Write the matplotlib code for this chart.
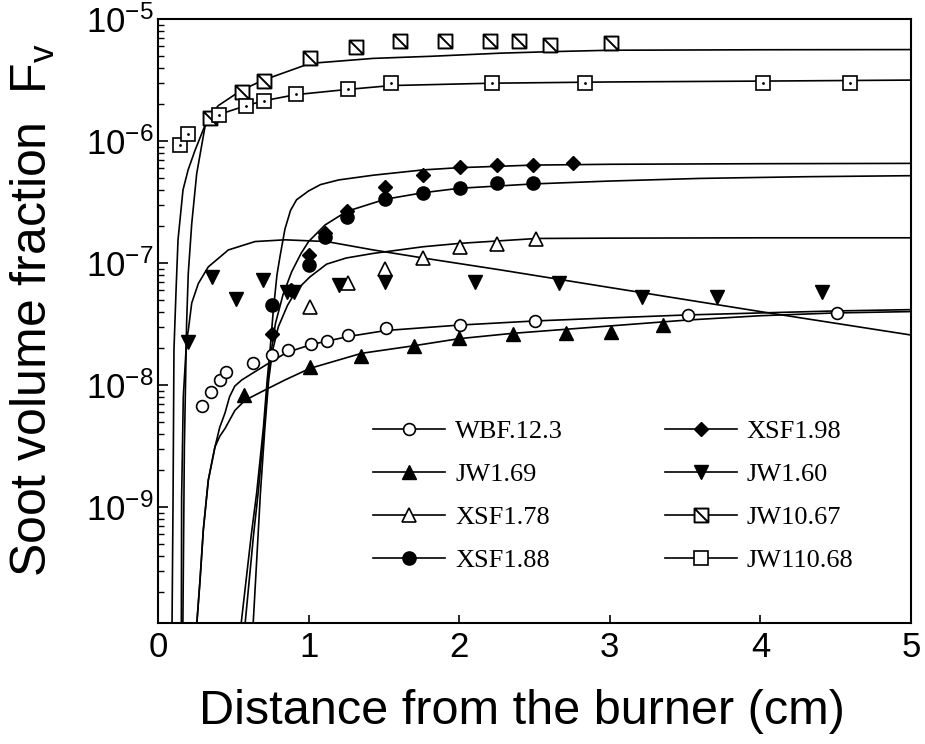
import matplotlib
matplotlib.use('Agg')
import matplotlib.pyplot as plt
from matplotlib.path import Path
from matplotlib.lines import Line2D
from matplotlib.ticker import LogLocator, NullFormatter, FixedLocator, LogFormatterSciNotation

plt.rcParams['font.family'] = ['Liberation Sans', 'DejaVu Sans']
plt.rcParams['mathtext.default'] = 'regular'
plt.rcParams['axes.unicode_minus'] = False

# ---------------- measured data (markers) ----------------
wbf_x = [0.29, 0.35, 0.412, 0.452, 0.633, 0.759, 0.861, 1.014, 1.124, 1.264, 1.514, 2.005, 2.503, 3.52, 4.506]
wbf_y = [6.7e-9, 8.8e-9, 1.1e-8, 1.27e-8, 1.52e-8, 1.76e-8, 1.94e-8, 2.15e-8, 2.31e-8, 2.57e-8, 2.92e-8, 3.1e-8, 3.37e-8, 3.75e-8, 3.87e-8]

jw169_x = [0.571, 1.009, 1.346, 1.70, 2.0, 2.355, 2.709, 3.006, 3.355]
jw169_y = [8.3e-9, 1.41e-8, 1.73e-8, 2.09e-8, 2.41e-8, 2.62e-8, 2.65e-8, 2.74e-8, 3.1e-8]

xsf178_x = [1.009, 1.262, 1.507, 1.757, 2.005, 2.25, 2.51]
xsf178_y = [4.4e-8, 6.9e-8, 8.9e-8, 1.09e-7, 1.36e-7, 1.42e-7, 1.56e-7]

xsf188_x = [0.755, 1.003, 1.109, 1.255, 1.507, 1.76, 2.005, 2.25, 2.49]
xsf188_y = [4.5e-8, 9.6e-8, 1.62e-7, 2.37e-7, 3.33e-7, 3.77e-7, 4.14e-7, 4.5e-7, 4.5e-7]

xsf198_x = [0.755, 0.88, 1.003, 1.109, 1.255, 1.507, 1.76, 2.005, 2.25, 2.49, 2.757]
xsf198_y = [2.6e-8, 6.0e-8, 1.16e-7, 1.77e-7, 2.68e-7, 4.2e-7, 5.26e-7, 6.17e-7, 6.35e-7, 6.4e-7, 6.6e-7]

jw160_x = [0.201, 0.356, 0.518, 0.70, 0.855, 0.90, 1.204, 1.507, 2.105, 2.665, 3.212, 3.71, 4.407]
jw160_y = [2.26e-8, 7.7e-8, 5.1e-8, 7.2e-8, 5.8e-8, 5.8e-8, 6.6e-8, 7.0e-8, 7.0e-8, 6.8e-8, 5.3e-8, 5.3e-8, 5.8e-8]

jw1067_x = [0.345, 0.556, 0.704, 1.009, 1.315, 1.607, 1.906, 2.204, 2.40, 2.60, 3.008]
jw1067_y = [1.55e-6, 2.54e-6, 3.12e-6, 4.76e-6, 5.86e-6, 6.6e-6, 6.6e-6, 6.6e-6, 6.6e-6, 6.1e-6, 6.4e-6]

jw11068_x = [0.146, 0.197, 0.405, 0.584, 0.704, 0.914, 1.262, 1.55, 2.22, 2.836, 4.02, 4.595]
jw11068_y = [9.2e-7, 1.14e-6, 1.63e-6, 1.94e-6, 2.14e-6, 2.43e-6, 2.65e-6, 2.97e-6, 2.97e-6, 2.97e-6, 2.97e-6, 2.97e-6]

# ---------------- curves ----------------
wbf_cx = [0.255, 0.279, 0.301, 0.334, 0.378, 0.41, 0.445, 0.475, 0.51, 0.556, 0.65, 0.75, 0.855, 1.02, 1.264, 1.514, 2.0, 2.5, 3.0, 3.5, 4.0, 4.5, 5.0]
wbf_cy = [1.0e-10, 2.5e-10, 6.5e-10, 1.66e-9, 3.1e-9, 4.5e-9, 5.9e-9, 8.0e-9, 9.8e-9, 1.1e-8, 1.3e-8, 1.55e-8, 1.85e-8, 2.15e-8, 2.5e-8, 2.8e-8, 3.1e-8, 3.35e-8, 3.55e-8, 3.75e-8, 3.9e-8, 4.05e-8, 4.15e-8]

jw169_cx = [0.255, 0.279, 0.301, 0.334, 0.378, 0.41, 0.445, 0.511, 0.578, 0.71, 0.843, 1.009, 1.352, 1.7, 2.0, 2.35, 3.0, 3.5, 4.0, 4.5, 5.0]
jw169_cy = [1.0e-10, 2.5e-10, 6.5e-10, 1.66e-9, 3.1e-9, 3.8e-9, 4.4e-9, 6.2e-9, 7.5e-9, 9.1e-9, 1.1e-8, 1.37e-8, 1.82e-8, 2.1e-8, 2.4e-8, 2.65e-8, 3.05e-8, 3.4e-8, 3.7e-8, 3.9e-8, 4.0e-8]

xsf178_cx = [0.630, 0.665, 0.68, 0.71, 0.735, 0.76, 0.799, 0.86, 0.92, 1.009, 1.12, 1.25, 1.43, 1.76, 2.005, 2.515, 3.0, 4.0, 5.0]
xsf178_cy = [1e-10, 6e-10, 1.3e-9, 4.5e-9, 1.1e-8, 1.9e-8, 3.0e-8, 4.5e-8, 6.0e-8, 7.7e-8, 9.8e-8, 1.1e-7, 1.2e-7, 1.36e-7, 1.45e-7, 1.59e-7, 1.6e-7, 1.61e-7, 1.61e-7]

xsf188_cx = [0.575, 0.635, 0.665, 0.705, 0.73, 0.755, 0.78, 0.83, 0.888, 0.95, 1.0, 1.109, 1.253, 1.507, 1.76, 2.0, 2.49, 3.0, 3.6, 4.3, 5.0]
xsf188_cy = [1e-10, 6e-10, 1.3e-9, 4.5e-9, 1.1e-8, 2.0e-8, 3.2e-8, 5.5e-8, 8.5e-8, 1.2e-7, 1.5e-7, 2.05e-7, 2.65e-7, 3.33e-7, 3.77e-7, 4.1e-7, 4.45e-7, 4.7e-7, 4.94e-7, 5.1e-7, 5.2e-7]

xsf198_cx = [0.548, 0.62, 0.655, 0.70, 0.725, 0.745, 0.765, 0.79, 0.81, 0.843, 0.88, 0.92, 1.0, 1.08, 1.2, 1.43, 1.76, 2.0, 2.49, 3.0, 4.0, 5.0]
xsf198_cy = [1e-10, 6e-10, 1.3e-9, 4.5e-9, 1.1e-8, 2.0e-8, 4.0e-8, 8.0e-8, 1.13e-7, 1.9e-7, 2.7e-7, 3.3e-7, 3.9e-7, 4.4e-7, 4.8e-7, 5.25e-7, 5.8e-7, 6.05e-7, 6.35e-7, 6.45e-7, 6.52e-7, 6.56e-7]

jw160_cx = [0.155, 0.157, 0.168, 0.19, 0.201, 0.224, 0.268, 0.334, 0.467, 0.644, 0.843, 1.12, 1.43, 1.76, 2.27, 3.0, 4.0, 5.0]
jw160_cy = [1e-10, 1.2e-9, 8e-9, 2.34e-8, 2.8e-8, 4.7e-8, 6.8e-8, 9.3e-8, 1.28e-7, 1.5e-7, 1.55e-7, 1.5e-7, 1.28e-7, 1.1e-7, 8.8e-8, 6.3e-8, 4.0e-8, 2.57e-8]

jw1067_cx = [0.165, 0.175, 0.19, 0.201, 0.224, 0.257, 0.312, 0.345, 0.40, 0.556, 0.70, 1.01, 1.43, 1.81, 2.27, 2.6, 3.0, 4.0, 5.0]
jw1067_cy = [1e-10, 3e-9, 3.2e-8, 8.2e-8, 2.1e-7, 5.4e-7, 1.31e-6, 1.6e-6, 1.95e-6, 2.62e-6, 3.16e-6, 4.33e-6, 4.76e-6, 4.95e-6, 5.25e-6, 5.4e-6, 5.55e-6, 5.6e-6, 5.62e-6]

jw11068_cx = [0.093, 0.100, 0.106, 0.120, 0.133, 0.166, 0.20, 0.246, 0.332, 0.405, 0.584, 0.704, 0.914, 1.26, 1.55, 2.22, 3.0, 4.0, 5.0]
jw11068_cy = [1e-10, 1.15e-9, 1.94e-8, 6.0e-8, 1.55e-7, 3.97e-7, 5.8e-7, 8.4e-7, 1.55e-6, 1.65e-6, 1.95e-6, 2.14e-6, 2.4e-6, 2.65e-6, 2.85e-6, 2.98e-6, 3.05e-6, 3.1e-6, 3.16e-6]

labels = ['WBF.12.3', 'JW1.69', 'XSF1.78', 'XSF1.88', 'XSF1.98', 'JW1.60', 'JW10.67', 'JW110.68']
x_ticks = [0, 1, 2, 3, 4, 5]
y_ticks = [1e-9, 1e-8, 1e-7, 1e-6, 1e-5]

# hatched square marker
hsq = Path([(-1, -1), (1, -1), (1, 1), (-1, 1), (-1, -1), (-1, 1), (1, -1)],
           [Path.MOVETO, Path.LINETO, Path.LINETO, Path.LINETO, Path.CLOSEPOLY,
            Path.MOVETO, Path.LINETO])

styles = [
    dict(marker='o', ms=8.5, mfc='white', mec='k', mew=1.2),
    dict(marker='^', ms=9.5, mfc='k', mec='k', mew=1.0),
    dict(marker='^', ms=9.5, mfc='white', mec='k', mew=1.2),
    dict(marker='o', ms=9.5, mfc='k', mec='k', mew=1.0),
    dict(marker='D', ms=7.5, mfc='k', mec='k', mew=1.0),
    dict(marker='v', ms=9.5, mfc='k', mec='k', mew=1.0),
    dict(marker=hsq, ms=10, mfc='white', mec='k', mew=1.4),
    dict(marker='s', ms=9.5, mfc='white', mec='k', mew=1.2),
]

pts = [(wbf_x, wbf_y), (jw169_x, jw169_y), (xsf178_x, xsf178_y), (xsf188_x, xsf188_y),
       (xsf198_x, xsf198_y), (jw160_x, jw160_y), (jw1067_x, jw1067_y), (jw11068_x, jw11068_y)]
curves = [(wbf_cx, wbf_cy), (jw169_cx, jw169_cy), (xsf178_cx, xsf178_cy), (xsf188_cx, xsf188_cy),
          (xsf198_cx, xsf198_cy), (jw160_cx, jw160_cy), (jw1067_cx, jw1067_cy), (jw11068_cx, jw11068_cy)]

fig = plt.figure(figsize=(9.25, 7.44), dpi=100)
ax = fig.add_axes([0.1708, 0.1626, 0.8141, 0.8118])
ax.set_yscale('log')

for (cx, cy) in curves:
    ax.plot(cx, cy, color='k', lw=1.2, zorder=2)

for (px, py), st in zip(pts, styles):
    ax.plot(px, py, linestyle='none', zorder=3, **st)
# dot in the centre of JW110.68 squares
ax.plot(jw11068_x, jw11068_y, linestyle='none', marker='.', ms=2, color='k', zorder=4)

ax.set_xlim(0, 5)
ax.set_ylim(1.12e-10, 1e-5)
ax.xaxis.set_major_locator(FixedLocator(x_ticks))
ax.yaxis.set_major_locator(FixedLocator(y_ticks))
ax.yaxis.set_major_formatter(LogFormatterSciNotation())
ax.yaxis.set_minor_locator(LogLocator(base=10, subs=[2, 3, 4, 5, 6, 7, 8, 9], numticks=20))
ax.yaxis.set_minor_formatter(NullFormatter())
ax.tick_params(which='both', direction='in', top=False, right=False)
ax.tick_params(axis='x', which='major', length=6, width=1.2, labelsize=25, pad=6)
ax.tick_params(axis='y', which='major', length=7, width=1.2, labelsize=25, pad=3)
ax.tick_params(axis='y', which='minor', length=4, width=1.0)
for s in ax.spines.values():
    s.set_linewidth(1.5)

fig.text(33 / 925, 1 - 310 / 744, 'Soot volume fraction  F$_{v}$', rotation=90,
         ha='center', va='center', fontsize=36)
fig.text(522 / 925, 1 - 712 / 744, 'Distance from the burner (cm)',
         ha='center', va='center', fontsize=35)

handles = [Line2D([], [], color='k', lw=1.2, **st) for st in styles]
leg = ax.legend(handles, labels, ncol=2, loc='upper left',
                bbox_to_anchor=(373 / 925, 1 - 420 / 744), bbox_transform=fig.transFigure,
                frameon=False, borderpad=0, borderaxespad=0, handlelength=2.73,
                handletextpad=0.38, columnspacing=3.86, labelspacing=0.74, numpoints=1,
                prop={'family': 'Liberation Serif', 'size': 19})

fig.savefig('out.png', dpi=100)
